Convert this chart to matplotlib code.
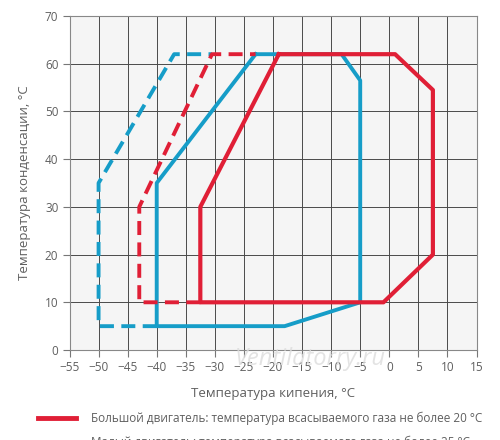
import matplotlib
matplotlib.use("Agg")
import matplotlib.pyplot as plt
from matplotlib.lines import Line2D

plt.rcParams['font.family'] = ['Open Sans', 'DejaVu Sans']

# big engine, suction gas <= 20 C (solid red)
red_x = [-19, 1, 7.5, 7.5, -1, -32.5, -32.5, -19]
red_y = [62, 62, 54.5, 20, 10, 10, 30, 62]
# red dashed extension
red_d_x = [-32.5, -43, -43, -30.5, -23]
red_d_y = [10, 10, 30, 62, 62]
# small engine (solid blue)
blue_x = [-23, -8.2, -5, -5, -18, -40, -40, -23]
blue_y = [62, 62, 56.5, 10, 5, 5, 35, 62]
# blue dashed extension
blue_d_x = [-40, -50, -50, -37, -30.5]
blue_d_y = [5, 5, 35, 62, 62]

xticks = list(range(-55, 20, 5))
yticks = list(range(0, 80, 10))

RED = '#e01f36'
BLUE = '#169dc8'
GRAY = '#5f5f5f'

fig = plt.figure(figsize=(5, 4.4), dpi=100)
ax = fig.add_axes([0.139, 0.2045, 0.814, 0.7591])
ax.set_facecolor('#f5f5f5')

ax.plot(blue_d_x, blue_d_y, color=BLUE, lw=2.8, dashes=(3.6, 1.9))
ax.plot(blue_x, blue_y, color=BLUE, lw=2.8)
ax.plot(red_d_x, red_d_y, color=RED, lw=2.8, dashes=(3.6, 1.9))
ax.plot(red_x, red_y, color=RED, lw=3.0)

ax.set_xlim(-55, 15)
ax.set_ylim(0, 70)
ax.set_xticks(xticks)
ax.set_yticks(yticks)
ax.grid(True, color='#4a4a4a', lw=0.7)
ax.set_axisbelow(True)
ax.tick_params(direction='out', length=5, width=0.8, color='#777777',
               labelcolor=GRAY, labelsize=8.5, pad=3)
for s in ax.spines.values():
    s.set_color('#888888')
    s.set_linewidth(0.8)

ax.set_xlabel('Температура кипения, °C', color=GRAY, fontsize=9.5, labelpad=9)
ax.set_ylabel('Температура конденсации, °C', color=GRAY, fontsize=9.5, labelpad=10)

fig.text(0.62, 0.185, 'Ventilatorry.ru', fontsize=17, style='italic',
         color='#dddddd', alpha=0.8, ha='center', va='center')

handles = [Line2D([], [], color=RED, lw=3.5), Line2D([], [], color=BLUE, lw=3.5)]
labels = ['Большой двигатель: температура всасываемого газа не более 20 °C',
          'Малый двигатель: температура всасываемого газа не более 25 °C']
fig.legend(handles, labels, loc='upper left', bbox_to_anchor=(0.055, 0.088),
           frameon=False, fontsize=8.5, labelcolor=GRAY, handlelength=3.2,
           handletextpad=1.3, labelspacing=0.9)

fig.savefig('out.png', dpi=100)
